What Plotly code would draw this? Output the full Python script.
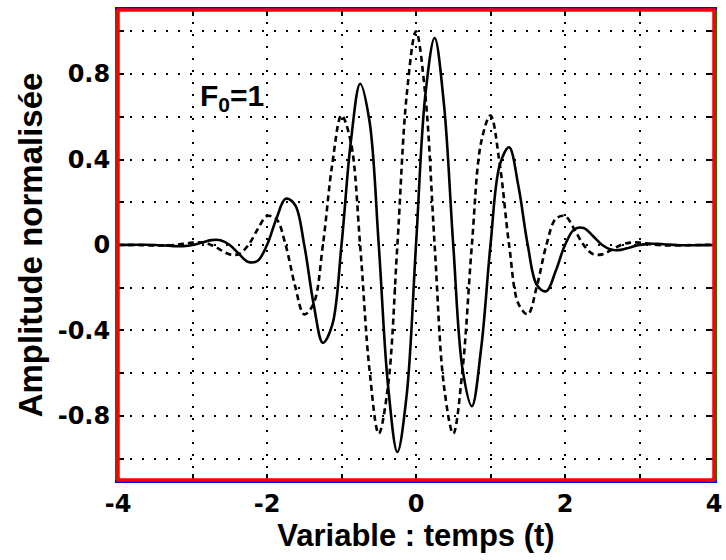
import plotly.graph_objects as go

# time axis (t), step 0.125
t = [-4.0, -3.875, -3.75, -3.625, -3.5, -3.375, -3.25, -3.125,
     -3.0, -2.875, -2.75, -2.625, -2.5, -2.375, -2.25, -2.125,
     -2.0, -1.875, -1.75, -1.625, -1.5, -1.375, -1.25, -1.125,
     -1.0, -0.875, -0.75, -0.625, -0.5, -0.375, -0.25, -0.125,
     0.0, 0.125, 0.25, 0.375, 0.5, 0.625, 0.75, 0.875,
     1.0, 1.125, 1.25, 1.375, 1.5, 1.625, 1.75, 1.875,
     2.0, 2.125, 2.25, 2.375, 2.5, 2.625, 2.75, 2.875,
     3.0, 3.125, 3.25, 3.375, 3.5, 3.625, 3.75, 3.875, 4.0]

# dashed curve (real part)
real_part = [0.0003, 0.0004, 0.0, -0.0010, -0.0022, -0.0024, 0.0, 0.0054,
             0.0111, 0.0113, 0.0, -0.0226, -0.0439, -0.0421, 0.0, 0.0739,
             0.1353, 0.1219, 0.0, -0.1888, -0.3247, -0.2748, 0.0, 0.3755,
             0.6065, 0.4822, 0.0, -0.5817, -0.8825, -0.6591, 0.0, 0.7016,
             1.0,
             0.7016, 0.0, -0.6591, -0.8825, -0.5817, 0.0, 0.4822, 0.6065,
             0.3755, 0.0, -0.2748, -0.3247, -0.1888, 0.0, 0.1219, 0.1353,
             0.0739, 0.0, -0.0421, -0.0439, -0.0226, 0.0, 0.0113, 0.0111,
             0.0054, 0.0, -0.0024, -0.0022, -0.0010, 0.0, 0.0004, 0.0003]

# solid curve (imaginary part)
imag_part = [0.0, 0.0004, 0.0009, 0.0010, 0.0, -0.0024, -0.0051, -0.0054,
             0.0, 0.0113, 0.0228, 0.0226, 0.0, -0.0421, -0.0796, -0.0739,
             0.0, 0.1219, 0.2163, 0.1888, 0.0, -0.2748, -0.4578, -0.3755,
             0.0, 0.4822, 0.7548, 0.5817, 0.0, -0.6591, -0.9692, -0.7016,
             0.0,
             0.7016, 0.9692, 0.6591, 0.0, -0.5817, -0.7548, -0.4822, 0.0,
             0.3755, 0.4578, 0.2748, 0.0, -0.1888, -0.2163, -0.1219, 0.0,
             0.0739, 0.0796, 0.0421, 0.0, -0.0226, -0.0228, -0.0113, 0.0,
             0.0054, 0.0051, 0.0024, 0.0, -0.0010, -0.0009, -0.0004, 0.0]

x_tickvals = [-4, -3, -2, -1, 0, 1, 2, 3, 4]
x_ticktext = ["-4", "", "-2", "", "0", "", "2", "", "4"]
y_tickvals = [-1.0, -0.8, -0.6, -0.4, -0.2, 0.0, 0.2, 0.4, 0.6, 0.8, 1.0]
y_ticktext = ["", "-0.8", "", "-0.4", "", "0", "", "0.4", "", "0.8", ""]

x_title = "Variable : temps (t)"
y_title = "Amplitude normalisée"
label_text = "F<sub>0</sub>=1"

fig = go.Figure()
fig.add_trace(go.Scatter(x=t, y=real_part, mode="lines", line_shape="spline",
                         line=dict(color="black", width=2.6, dash="6px,4px"),
                         showlegend=False))
fig.add_trace(go.Scatter(x=t, y=imag_part, mode="lines", line_shape="spline",
                         line=dict(color="black", width=2.6),
                         showlegend=False))

fig.add_annotation(x=-2.92, y=0.69, xref="x", yref="y", text=label_text,
                   showarrow=False, xanchor="left", yanchor="middle",
                   font=dict(family="Liberation Sans", size=30, color="black", weight="bold"))

# plot frame (diagnostic colour)
fig.add_shape(type="rect", xref="paper", yref="paper", x0=0, y0=0, x1=1, y1=1,
              line=dict(color="red", width=3.5), fillcolor="rgba(0,0,0,0)", layer="above")

tickfont = dict(family="DejaVu Sans", size=24, color="black", weight="bold")
xtitlefont = dict(family="Liberation Sans", size=31, color="black", weight="bold")
ytitlefont = dict(family="Liberation Sans", size=33, color="black", weight="bold")
grid_kw = dict(showgrid=True, gridcolor="black", gridwidth=1.5, griddash="2px,10px")

fig.update_xaxes(range=[-4, 4], tickvals=x_tickvals, ticktext=x_ticktext, **grid_kw,
                 showline=True, linecolor="blue", linewidth=3, mirror="ticks",
                 ticks="inside", ticklen=6, tickwidth=1.5, tickcolor="black",
                 tickfont=tickfont, zeroline=False,
                 title=dict(text=x_title, font=xtitlefont, standoff=2))
fig.update_yaxes(range=[-1.1, 1.1], tickvals=y_tickvals, ticktext=y_ticktext, **grid_kw,
                 showline=True, linecolor="green", linewidth=3, mirror="ticks",
                 ticks="inside", ticklen=6, tickwidth=1.5, tickcolor="black",
                 tickfont=tickfont, zeroline=False,
                 title=dict(text=y_title, font=ytitlefont, standoff=6))

fig.update_layout(width=726, height=560,
                  margin=dict(l=118, r=12, t=10, b=80, autoexpand=False),
                  plot_bgcolor="white", paper_bgcolor="white")

fig.write_html("out.html", config={"displayModeBar": False},
               post_script="document.body.style.margin='0px';")
